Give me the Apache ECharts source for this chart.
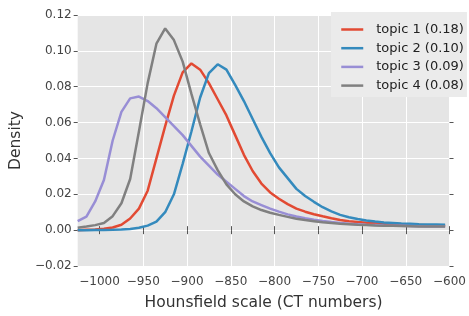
<!DOCTYPE html>
<html lang="en">
<head>
    <meta charset="UTF-8">
    <title>Density of Hounsfield values</title>
    <script src="https://cdn.jsdelivr.net/npm/echarts@6.0.0/dist/echarts.min.js"></script>
    <style>
        html, body { margin: 0; padding: 0; background: #fff; }
        #main { width: 469px; height: 316px; }
    </style>
</head>
<body>
    <div id="main"></div>
    <script>
        // sample positions (HU) and densities
        const xValues = [-1025, -1015, -1005, -995, -985, -975, -965, -955, -945, -935,
                         -925, -915, -905, -895, -885, -875, -865, -855, -845, -835,
                         -825, -815, -805, -795, -785, -775, -765, -755, -745, -735,
                         -725, -715, -705, -695, -685, -675, -665, -655, -645, -635,
                         -625, -615, -605];

        const topic1 = [0.0000, 0.0002, 0.0004, 0.0008, 0.0015, 0.0030, 0.0065, 0.0120, 0.0220, 0.0400,
                        0.0580, 0.0750, 0.0880, 0.0930, 0.0895, 0.0820, 0.0730, 0.0640, 0.0530, 0.0420,
                        0.0330, 0.0260, 0.0210, 0.0175, 0.0145, 0.0120, 0.0103, 0.0089, 0.0077, 0.0066,
                        0.0057, 0.0050, 0.0045, 0.0041, 0.0038, 0.0035, 0.0033, 0.0031, 0.0029, 0.0028,
                        0.0027, 0.0026, 0.0025];

        const topic2 = [0.0000, 0.0000, 0.0001, 0.0001, 0.0002, 0.0004, 0.0007, 0.0013, 0.0025, 0.0047,
                        0.0100, 0.0200, 0.0370, 0.0550, 0.0740, 0.0876, 0.0925, 0.0895, 0.0810, 0.0720,
                        0.0620, 0.0520, 0.0430, 0.0350, 0.0290, 0.0230, 0.0190, 0.0158, 0.0128, 0.0105,
                        0.0085, 0.0072, 0.0062, 0.0054, 0.0048, 0.0043, 0.0040, 0.0037, 0.0035, 0.0033,
                        0.0032, 0.0031, 0.0030];

        const topic3 = [0.0050, 0.0075, 0.0160, 0.0280, 0.0500, 0.0660, 0.0735, 0.0745, 0.0720, 0.0680,
                        0.0630, 0.0580, 0.0530, 0.0470, 0.0410, 0.0360, 0.0310, 0.0270, 0.0230, 0.0190,
                        0.0160, 0.0140, 0.0120, 0.0103, 0.0088, 0.0076, 0.0066, 0.0058, 0.0051, 0.0045,
                        0.0040, 0.0036, 0.0033, 0.0030, 0.0028, 0.0026, 0.0025, 0.0024, 0.0023, 0.0022,
                        0.0021, 0.0021, 0.0020];

        const topic4 = [0.0013, 0.0020, 0.0028, 0.0040, 0.0078, 0.0150, 0.0285, 0.0550, 0.0820, 0.1040,
                        0.1125, 0.1060, 0.0940, 0.0760, 0.0590, 0.0430, 0.0335, 0.0255, 0.0200, 0.0160,
                        0.0133, 0.0112, 0.0097, 0.0085, 0.0074, 0.0064, 0.0056, 0.0050, 0.0044, 0.0040,
                        0.0036, 0.0033, 0.0030, 0.0028, 0.0026, 0.0025, 0.0024, 0.0023, 0.0022, 0.0021,
                        0.0021, 0.0020, 0.0020];

        const seriesNames = ['topic 1 (0.18)', 'topic 2 (0.10)', 'topic 3 (0.09)', 'topic 4 (0.08)'];
        const seriesColors = ['#E24A33', '#348ABD', '#988ED5', '#808080'];

        const xTicks = [-1000, -950, -900, -850, -800, -750, -700, -650, -600];
        const yTicks = [-0.02, 0.00, 0.02, 0.04, 0.06, 0.08, 0.10, 0.12];

        const font = 'DejaVu Sans';
        const withMinus = s => s.replace('-', '\u2212');

        const chart = echarts.init(document.getElementById('main'));

        const tickStyle = { show: true, length: 4, lineStyle: { color: '#555', width: 1 } };

        const option = {
            animation: false,
            textStyle: { fontFamily: font },
            grid: {
                left: 73, top: 15, width: 379, height: 253,
                show: true, backgroundColor: '#E5E5E5', borderWidth: 0
            },
            legend: {
                orient: 'vertical',
                left: 331, top: 12,
                padding: [11, 3, 5, 9],
                itemGap: 5.7,
                itemWidth: 22, itemHeight: 14,
                backgroundColor: '#EBEBEB',
                itemStyle: { opacity: 0 },
                lineStyle: { width: 2.5 },
                textStyle: { fontFamily: font, fontSize: 13, color: '#222', padding: [0, 0, 0, 8] },
                data: seriesNames
            },
            xAxis: [{
                type: 'value',
                min: -1025, max: -600, interval: 50,
                position: 'bottom',
                axisLine: { show: false },
                axisTick: Object.assign({ customValues: xTicks }, tickStyle),
                axisLabel: {
                    customValues: xTicks,
                    color: '#444', fontSize: 12, margin: 10,
                    formatter: v => withMinus(String(v))
                },
                splitLine: { show: true, showMinLine: false, lineStyle: { color: '#fff', width: 1 } },
                name: 'Hounsfield scale (CT numbers)',
                nameLocation: 'middle',
                nameGap: 29,
                nameTextStyle: { fontSize: 15.5, color: '#333', fontFamily: font }
            }, {
                type: 'value',
                min: -1025, max: -600, interval: 50,
                position: 'top',
                axisLine: { show: false },
                axisTick: Object.assign({ customValues: xTicks }, tickStyle),
                axisLabel: { show: false },
                splitLine: { show: false }
            }],
            yAxis: [{
                type: 'value',
                min: -0.02, max: 0.12, interval: 0.02,
                axisLine: { show: false },
                axisTick: Object.assign({ customValues: yTicks }, tickStyle),
                axisLabel: {
                    color: '#444', fontSize: 12, margin: 6,
                    formatter: v => withMinus(v.toFixed(2))
                },
                splitLine: { show: true, lineStyle: { color: '#fff', width: 1 } },
                name: 'Density',
                nameLocation: 'middle',
                nameGap: 46,
                nameTextStyle: { fontSize: 15.5, color: '#333', fontFamily: font }
            }, {
                type: 'value',
                min: -0.02, max: 0.12, interval: 0.02,
                position: 'right',
                axisLine: { show: false },
                axisTick: Object.assign({ customValues: yTicks }, tickStyle),
                axisLabel: { show: false },
                splitLine: { show: false }
            }],
            series: [topic1, topic2, topic3, topic4].map((ys, i) => ({
                name: seriesNames[i],
                type: 'line',
                symbol: 'none',
                smooth: false,
                lineStyle: { width: 2.5, color: seriesColors[i] },
                itemStyle: { color: seriesColors[i] },
                data: xValues.map((x, j) => [x, ys[j]])
            }))
        };

        chart.setOption(option);
    </script>
</body>
</html>
